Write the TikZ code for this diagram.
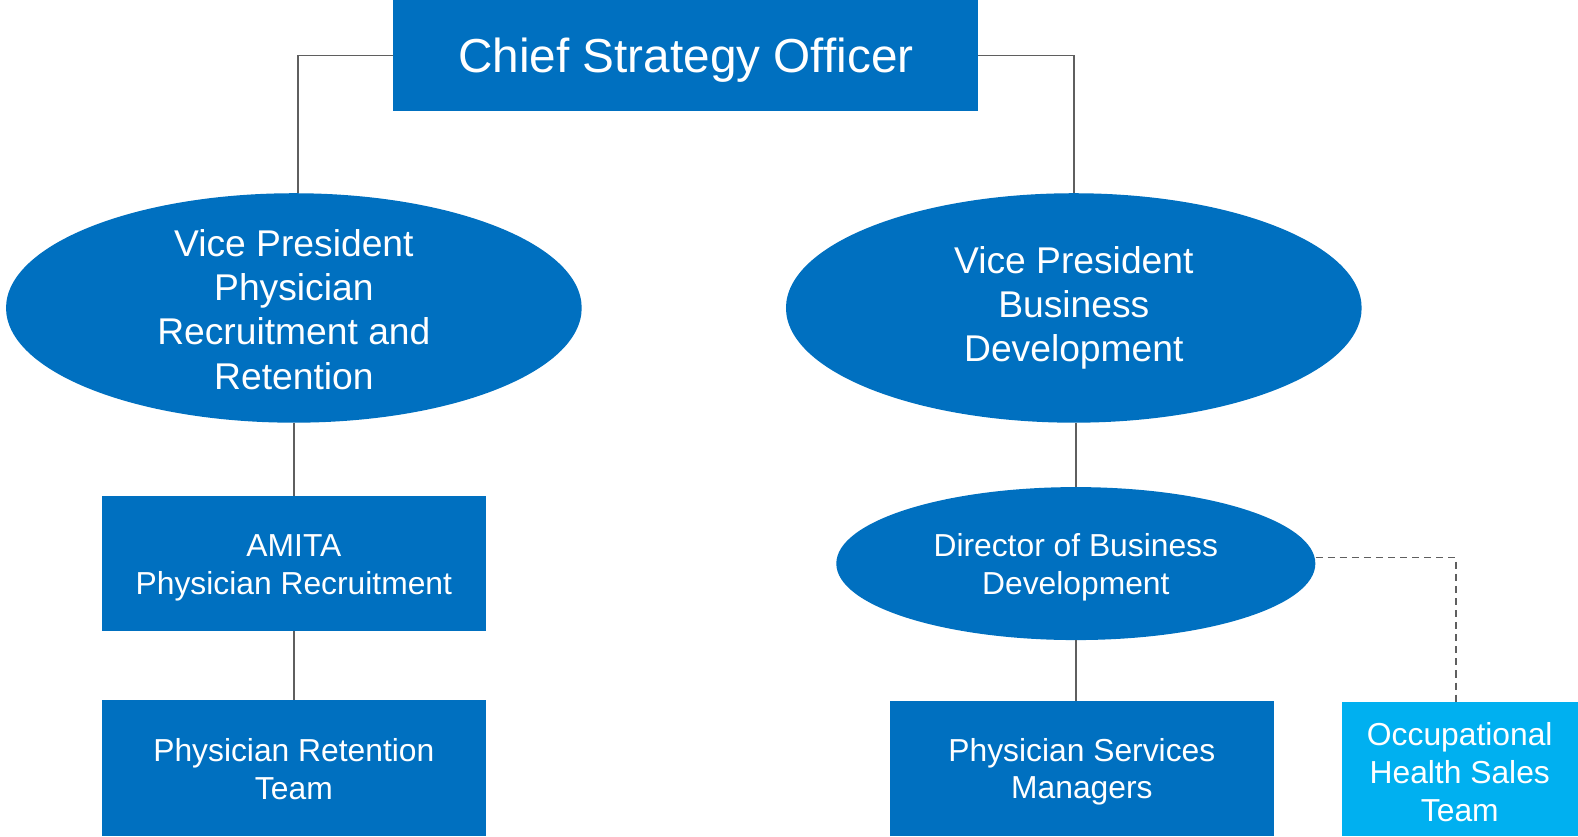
\documentclass[tikz,border=0pt]{standalone}
\usepackage{fontspec}
\setmainfont{Liberation Sans}
\usetikzlibrary{shapes.geometric}
\definecolor{orgblue}{HTML}{0070C0}
\definecolor{skyblue}{HTML}{00B0F0}
\definecolor{linegray}{HTML}{5F5F5F}
\tikzset{
  unitbox/.style={fill=orgblue, draw=none, inner sep=0pt},
  unitell/.style={ellipse, fill=orgblue, draw=none, inner sep=0pt},
  bigtxt/.style={text=white, align=center, font=\fontsize{47.4}{56}\selectfont},
  midtxt/.style={text=white, align=center, font=\fontsize{37}{44}\selectfont},
  smalltxt/.style={text=white, align=center, font=\fontsize{31.6}{37.5}\selectfont},
  link/.style={draw=linegray, line width=1.5pt},
  dotlink/.style={draw=linegray, line width=1.5pt, dash pattern=on 7pt off 5pt}
}
\begin{document}
\begin{tikzpicture}[x=1pt, y=-1pt]
  \useasboundingbox (0,0) rectangle (1568,831);

  % top level
  \node[unitbox, minimum width=581pt, minimum height=110pt] (cso) at (681.5,55) {};
  \node[bigtxt] (csot) at (681.5,60) {Chief Strategy Officer};

  % vice presidents
  \node[unitell, minimum width=572pt, minimum height=228pt] (vpr) at (292,306) {};
  \node[midtxt] (vprt) at (292,307.5) {Vice President\\Physician\\Recruitment and\\Retention};
  \node[unitell, minimum width=572pt, minimum height=228pt] (vpb) at (1067,306) {};
  \node[midtxt] (vpbt) at (1067,306) {Vice President\\Business\\Development};

  % recruitment branch
  \node[unitbox, minimum width=382pt, minimum height=134pt] (amita) at (292,560) {};
  \node[smalltxt] (amitat) at (292,564) {AMITA\\Physician Recruitment};
  \node[unitbox, minimum width=382pt, minimum height=135pt] (ret) at (292,763.5) {};
  \node[smalltxt] (rett) at (292,764) {Physician Retention\\Team};

  % business development branch
  \node[unitell, minimum width=476pt, minimum height=152pt] (dir) at (1069,560) {};
  \node[smalltxt] (dirt) at (1069,564) {Director of Business\\Development};
  \node[unitbox, minimum width=382pt, minimum height=134pt] (psm) at (1075,764) {};
  \node[smalltxt] (psmt) at (1075,767) {Physician Services\\Managers};
  \node[fill=skyblue, inner sep=0pt, minimum width=235pt, minimum height=133pt] (occ) at (1450.5,764.5) {};
  \node[smalltxt] (occt) at (1450.5,767) {Occupational\\Health Sales\\Team};

  % reporting lines
  \draw[link] (cso.west) -| ([xshift=4pt]vpr.north);
  \draw[link] (cso.east) -| (vpb.north);
  \draw[link] (vpr.south) -- (amita.north);
  \draw[link] (amita.south) -- (ret.north);
  \draw[link] (dir.north |- vpb.south) -- (dir.north);
  \draw[link] (dir.south) -- (dir.south |- psm.north);
  \draw[dotlink] ([yshift=6pt]dir.east) -| ([xshift=-3.5pt]occ.north);
\end{tikzpicture}
\end{document}
